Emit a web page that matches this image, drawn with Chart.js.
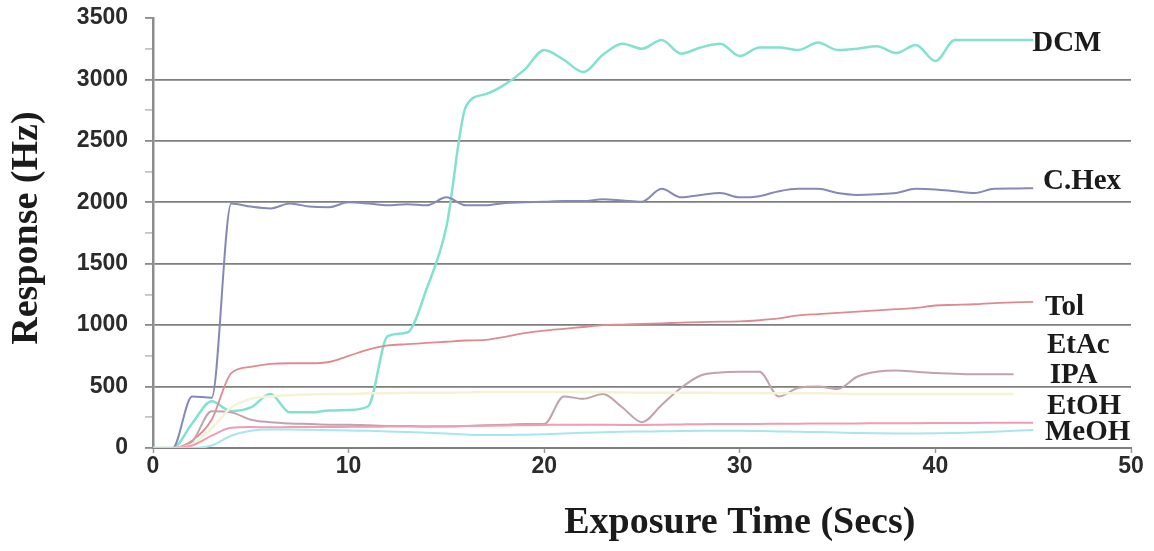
<!DOCTYPE html>
<html>
<head>
<meta charset="utf-8">
<script src="https://cdn.jsdelivr.net/npm/chart.js@4"></script>
<style>
  html, body { margin: 0; padding: 0; background: #fff; }
  #wrap { width: 1154px; height: 551px; position: relative; }
</style>
</head>
<body>
<div id="wrap"><canvas id="sensorChart"></canvas></div>
<script>
// Exposure time (s) for every reading
const secs = [0, 1, 2, 3, 4, 5, 6, 7, 8, 9, 10, 11, 12, 13, 14, 15, 16, 17, 18, 19,
  20, 21, 22, 23, 24, 25, 26, 27, 28, 29, 30, 31, 32, 33, 34, 35, 36, 37, 38, 39,
  40, 41, 42, 43, 44, 45];

// Sensor response (Hz) per solvent vapour
const dcm = [0, 0, 200, 380, 300, 330, 440, 290, 290, 305, 310, 340, 910, 940, 1300, 1800, 2780, 2880, 2960, 3080,
  3240, 3160, 3060, 3200, 3290, 3250, 3320, 3210, 3260, 3290, 3190, 3260, 3260, 3240, 3300, 3240, 3250, 3270, 3215, 3280,
  3150, 3320, 3320, 3320, 3320, 3320];
const cHex = [0, 0, 420, 410, 1990, 1965, 1950, 1990, 1965, 1960, 2000, 1990, 1975, 1985, 1975, 2040, 1975, 1975, 1995, 2000,
  2005, 2010, 2010, 2025, 2015, 2005, 2110, 2040, 2060, 2075, 2040, 2050, 2090, 2110, 2110, 2075, 2060, 2065, 2075, 2110,
  2105, 2090, 2075, 2110, 2112, 2115];
const tol = [0, 0, 60, 230, 610, 660, 685, 690, 690, 700, 750, 800, 835, 845, 855, 865, 875, 880, 905, 935,
  955, 970, 985, 1000, 1005, 1010, 1015, 1020, 1025, 1028, 1030, 1040, 1055, 1080, 1090, 1100, 1110, 1120, 1130, 1140,
  1160, 1165, 1170, 1180, 1185, 1190];
const etAc = [0, 0, 30, 160, 330, 400, 420, 430, 435, 440, 440, 445, 445, 450, 450, 450, 452, 455, 455, 455,
  455, 455, 455, 455, 452, 450, 450, 450, 450, 448, 448, 448, 445, 445, 445, 442, 440, 440, 440, 440,
  440, 440, 440, 440, 440, null];
const ipa = [0, 0, 50, 300, 290, 230, 210, 200, 195, 190, 190, 185, 180, 180, 175, 175, 180, 185, 190, 195,
  195, 420, 400, 440, 330, 210, 350, 490, 590, 615, 620, 620, 420, 490, 500, 480, 580, 620, 630, 620,
  610, 605, 600, 600, 600, null];
const etOH = [0, 0, 20, 100, 165, 170, 168, 170, 170, 170, 172, 172, 174, 175, 176, 178, 180, 182, 184, 186,
  188, 190, 190, 190, 188, 188, 190, 192, 194, 195, 196, 196, 198, 198, 200, 200, 200, 201, 202, 202,
  203, 204, 204, 205, 205, 205];
const meOH = [0, 0, 0, 20, 100, 140, 150, 150, 148, 145, 142, 140, 135, 130, 125, 118, 110, 105, 105, 108,
  112, 118, 124, 128, 132, 134, 136, 138, 140, 140, 140, 138, 135, 132, 130, 126, 122, 120, 119, 119,
  120, 122, 126, 132, 140, 147];

// Axis ticks
const xTicks = [0, 10, 20, 30, 40, 50];
const yTicks = [0, 500, 1000, 1500, 2000, 2500, 3000, 3500];

// Series names printed at the right-hand end of each trace
const seriesNames = ['DCM', 'C.Hex', 'Tol', 'EtAc', 'IPA', 'EtOH', 'MeOH'];

const pts = (vals) => secs.map((s, i) => ({ x: s, y: vals[i] }));

const series = [
  { label: 'MeOH', vals: meOH, color: '#a6e6ee', width: 2 },
  { label: 'EtOH', vals: etOH, color: '#ee9db2', width: 2 },
  { label: 'EtAc', vals: etAc, color: '#f6f2d4', width: 2.5 },
  { label: 'IPA', vals: ipa, color: '#c2a2ab', width: 2 },
  { label: 'Tol', vals: tol, color: '#df8a92', width: 1.8 },
  { label: 'C.Hex', vals: cHex, color: '#8589b6', width: 2 },
  { label: 'DCM', vals: dcm, color: '#82e2cf', width: 2.5 }
];

// where each name sits: [seconds, Hz] of its left/middle point
const tagPlaces = {
  'DCM': [44.95, 3296], 'C.Hex': [45.5, 2165], 'Tol': [45.6, 1140], 'EtAc': [45.7, 838],
  'IPA': [45.85, 594], 'EtOH': [45.7, 334], 'MeOH': [45.6, 122]
};

const captions = {
  id: 'captions',
  afterDraw(chart) {
    const { ctx, chartArea, scales } = chart;
    const x = scales.x, y = scales.y;
    ctx.save();
    ctx.fillStyle = '#1b1b1b';
    ctx.textBaseline = 'middle';

    // series names
    ctx.font = 'bold 29px "Liberation Serif", "Times New Roman", serif';
    ctx.textAlign = 'left';
    seriesNames.forEach(n => {
      const p = tagPlaces[n];
      ctx.fillText(n, x.getPixelForValue(p[0]), y.getPixelForValue(p[1]));
    });

    // axis titles
    ctx.font = 'bold 38px "Liberation Serif", "Times New Roman", serif';
    ctx.textAlign = 'center';
    ctx.fillText('Exposure Time (Secs)', x.getPixelForValue(30), chartArea.bottom + 75);
    ctx.translate(chartArea.left - 126, y.getPixelForValue(1790));
    ctx.rotate(-Math.PI / 2);
    ctx.fillText('Response (Hz)', 0, 0);
    ctx.restore();
  }
};

const tickFont = { family: '"Liberation Sans", Arial, sans-serif', size: 23, weight: 'bold' };

const config = {
  type: 'line',
  data: {
    datasets: series.map(s => ({
      label: s.label,
      data: pts(s.vals),
      borderColor: s.color,
      borderWidth: s.width,
      pointRadius: 0,
      fill: false,
      cubicInterpolationMode: 'monotone',
      spanGaps: false
    }))
  },
  options: {
    responsive: true,
    maintainAspectRatio: false,
    animation: false,
    layout: { padding: { top: 18, right: 23, left: 0, bottom: 0 } },
    plugins: { legend: { display: false }, tooltip: { enabled: false } },
    scales: {
      x: {
        type: 'linear',
        min: 0,
        max: 50,
        afterFit: (scale) => { scale.height = 103; },
        afterBuildTicks: (scale) => { scale.ticks = xTicks.map(v => ({ value: v })); },
        ticks: { font: tickFont, color: '#2b2b2b', padding: 0, maxRotation: 0 },
        grid: { drawOnChartArea: false, tickLength: 5, tickColor: '#9a9a9a', tickWidth: 1.5 },
        border: { color: '#7e7e7e', width: 2 }
      },
      y: {
        min: 0,
        max: 3500,
        afterFit: (scale) => {
          scale.width = 153;
          scale.paddingTop = 0;
          scale.paddingBottom = 0;
        },
        ticks: {
          stepSize: 250,
          font: tickFont,
          color: '#2b2b2b',
          padding: 17,
          callback: (v) => (yTicks.includes(v) ? String(v) : '')
        },
        grid: {
          tickLength: 8,
          lineWidth: 1.8,
          color: (c) => (c.tick && c.tick.value % 500 === 0 && c.tick.value < 3500 ? '#7e7e7e' : 'rgba(0,0,0,0)'),
          tickColor: (c) => (c.tick && c.tick.value % 500 === 0 ? '#8a8a8a' : '#c4c4c4')
        },
        border: { color: '#8c8c8c', width: 2.5 }
      }
    }
  },
  plugins: [captions]
};

window.addEventListener('DOMContentLoaded', () => {
  const sensorChart = new Chart(document.getElementById('sensorChart'), config);
});
</script>
</body>
</html>
